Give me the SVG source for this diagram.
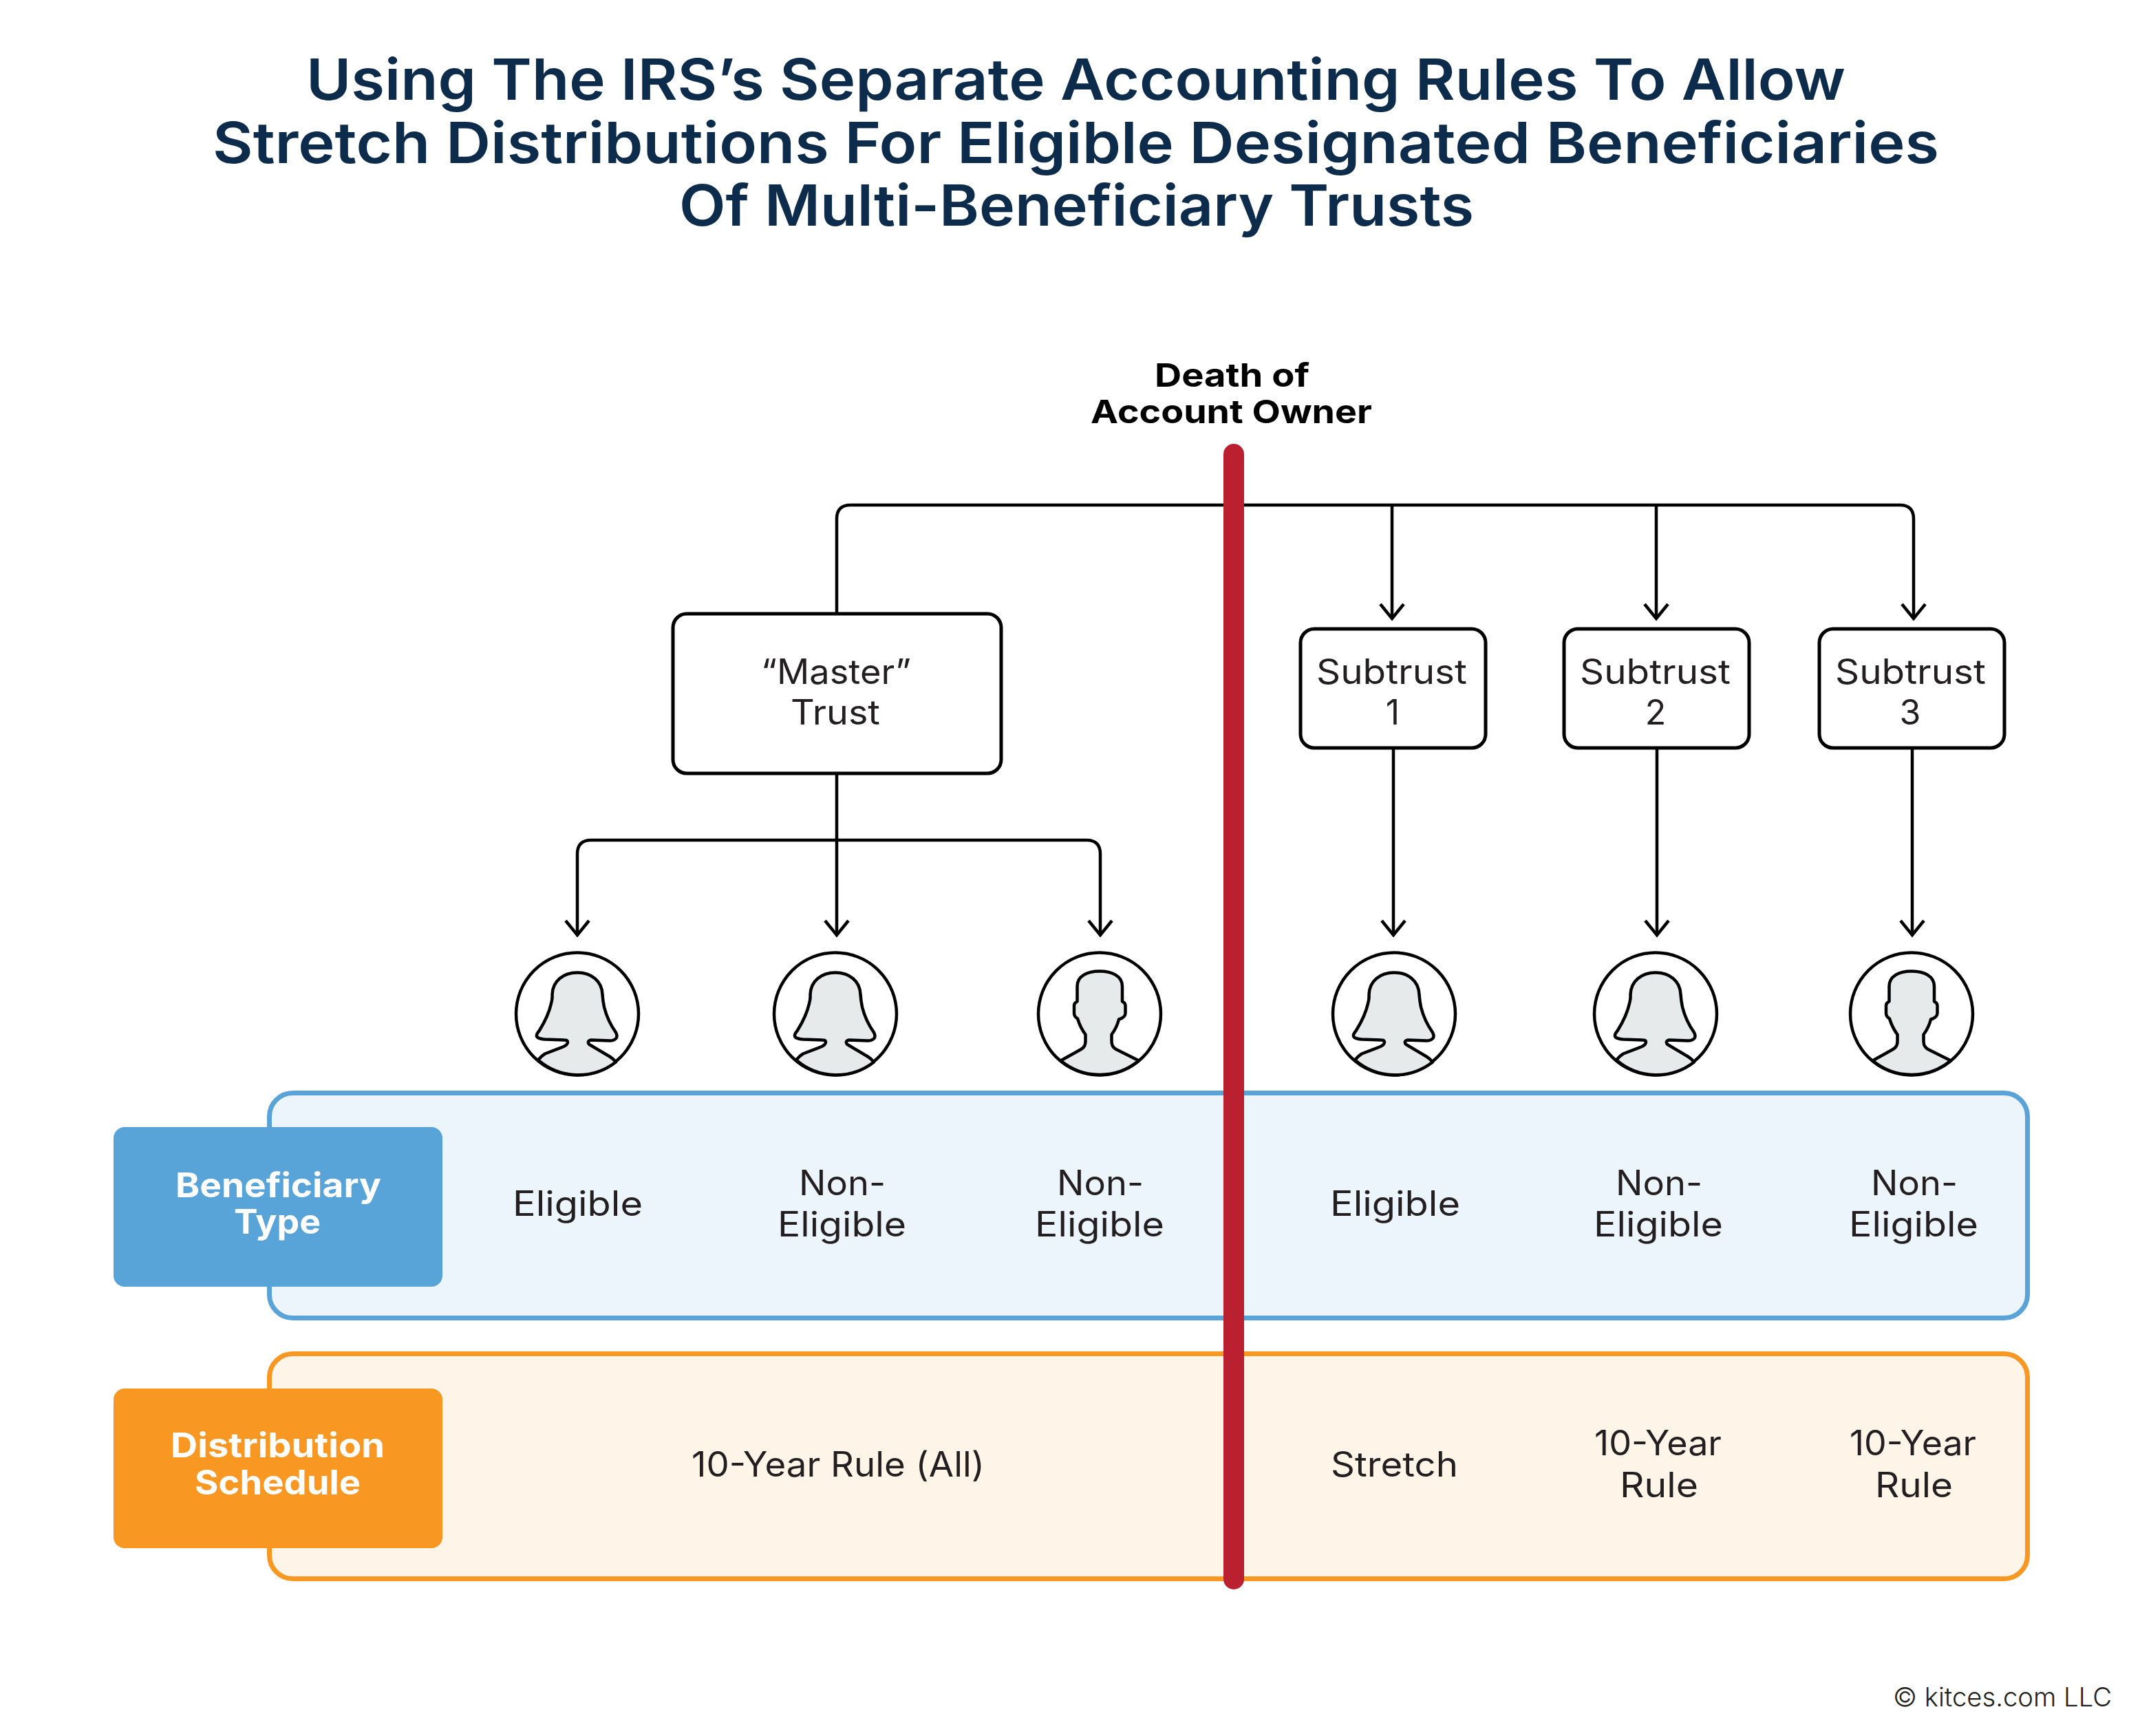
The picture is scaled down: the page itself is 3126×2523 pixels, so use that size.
<svg xmlns="http://www.w3.org/2000/svg" width="3126" height="2523" viewBox="0 0 3126 2523">
<defs>
<style>
text{font-family:"Inter","Noto Sans","Liberation Sans",sans-serif;fill:#231f20;font-size:50px}
.title{font-size:83px;font-weight:600;fill:#0d2b4a}
.head{font-size:47px;font-weight:700;fill:#000}
.lab{font-size:49px;font-weight:700;fill:#fff}
.copy{font-size:38px;font-weight:300}
.conn{fill:none;stroke:#000;stroke-width:4.500}
.arr{marker-end:url(#arrow)}
.box{fill:#fff;stroke:#000;stroke-width:5}
.ring{fill:#fff;stroke:#000;stroke-width:4.500}
.fig{fill:#e6eaeb;stroke:#000;stroke-width:4.500;stroke-linejoin:round}
</style>
<marker id="arrow" markerUnits="userSpaceOnUse" viewBox="-26 -20 32 40" refX="0" refY="0" markerWidth="32" markerHeight="40" orient="auto">
<path d="M-21,-17 L0,0 L-21,17" fill="none" stroke="#000" stroke-width="4.500"/>
</marker>
<g id="female">
<circle class="ring" r="89"/>
<path class="fig" d="M-57,67 Q-52,61 -47,58 L-21,48 Q-14,45 -14,41 Q-14,38 -19,38 L-47,37 Q-60,36 -59,31 Q-59,29 -55,24 Q-42,3 -38,-15 Q-36,-22 -36.5,-28 C-36,-48 -20,-60 0,-60 C20,-60 36,-48 36.500,-28 Q37,-20 39,-10 Q44,10 56,27 Q59,33 56,36 Q53,39 47,39 L20,38 Q15,39 16,42 Q16,44 20,46 L47,62 Q52,65 56,70 A89,89 0 0 1 -57,67 Z"/>
</g>
<g id="male">
<circle class="ring" r="89"/>
<path class="fig" d="M-56.500,68 L-27,51.500 Q-20.500,48 -20.500,40 L-20.500,30 Q-28,20 -32,7 Q-37,4 -37,-1 L-37,-12 Q-37,-16 -32.500,-18 L-32.500,-40 C-32.500,-55 -18,-62 0,-62 C18,-62 33,-55 33,-40 L33,-18 Q37.500,-16 37.500,-12 L37.500,-1 Q37.500,5 28,8 Q25,20 17.500,30 L17.500,40 Q17.500,48 24,51.500 L57,68 A89,89 0 0 1 -56.500,68 Z"/>
</g>
</defs>
<rect width="3126" height="2523" fill="#fff"/>

<g id="title">
<text class="title" x="445" y="145" textLength="2237" lengthAdjust="spacingAndGlyphs">Using The IRS’s Separate Accounting Rules To Allow</text>
<text class="title" x="309" y="237" textLength="2509" lengthAdjust="spacingAndGlyphs">Stretch Distributions For Eligible Designated Beneficiaries</text>
<text class="title" x="987" y="328" textLength="1155" lengthAdjust="spacingAndGlyphs">Of Multi-Beneficiary Trusts</text>
</g>

<g id="panels">
<rect x="391.500" y="1588.500" width="2555" height="327" rx="34" fill="#edf5fc" stroke="#5aa3d8" stroke-width="7"/>
<rect x="391.500" y="1967.500" width="2555" height="327" rx="34" fill="#fef4e8" stroke="#f99723" stroke-width="7"/>
</g>

<g id="connectors">
<path class="conn" d="M1216,892 L1216,754 Q1216,734 1236,734 L2761,734 Q2781,734 2781,754"/>
<path class="conn arr" d="M2781,754 L2781,899"/>
<path class="conn arr" d="M2023,734 L2023,899"/>
<path class="conn arr" d="M2407,734 L2407,899"/>
<path class="conn arr" d="M1216,1124 L1216,1359"/>
<path class="conn" d="M839,1241 Q839,1221 859,1221 L1579,1221 Q1599,1221 1599,1241"/>
<path class="conn arr" d="M839,1241 L839,1359"/>
<path class="conn arr" d="M1599,1241 L1599,1359"/>
<path class="conn arr" d="M2025,1088 L2025,1359"/>
<path class="conn arr" d="M2408,1088 L2408,1359"/>
<path class="conn arr" d="M2779,1088 L2779,1359"/>
</g>

<g id="master-trust">
<rect class="box" x="978" y="892" width="477" height="232" rx="20"/>
<text x="1106" y="994" textLength="218" lengthAdjust="spacingAndGlyphs">“Master”</text>
<text x="1149" y="1053" textLength="130" lengthAdjust="spacingAndGlyphs">Trust</text>
</g>
<g id="subtrust-1">
<rect class="box" x="1890" y="914" width="269" height="173" rx="20"/>
<text x="1913" y="994" textLength="219" lengthAdjust="spacingAndGlyphs">Subtrust</text>
<text x="2024" y="1053" text-anchor="middle">1</text>
</g>
<g id="subtrust-2">
<rect class="box" x="2273" y="914" width="269" height="173" rx="20"/>
<text x="2296" y="994" textLength="219" lengthAdjust="spacingAndGlyphs">Subtrust</text>
<text x="2406" y="1053" text-anchor="middle">2</text>
</g>
<g id="subtrust-3">
<rect class="box" x="2644" y="914" width="269" height="173" rx="20"/>
<text x="2667" y="994" textLength="219" lengthAdjust="spacingAndGlyphs">Subtrust</text>
<text x="2776" y="1053" text-anchor="middle">3</text>
</g>

<g id="person-1"><use href="#female" x="839" y="1473.500"/></g>
<g id="person-2"><use href="#female" x="1214" y="1473.500"/></g>
<g id="person-3"><use href="#male" x="1598" y="1473.500"/></g>
<g id="person-4"><use href="#female" x="2026" y="1473.500"/></g>
<g id="person-5"><use href="#female" x="2406" y="1473.500"/></g>
<g id="person-6"><use href="#male" x="2778" y="1473.500"/></g>

<g id="beneficiary-type">
<rect x="165" y="1638" width="478" height="232" rx="16" fill="#58a3d8"/>
<text class="lab" x="255" y="1740" textLength="299" lengthAdjust="spacingAndGlyphs">Beneficiary</text>
<text class="lab" x="340" y="1793" textLength="126" lengthAdjust="spacingAndGlyphs">Type</text>
</g>
<g id="distribution-schedule">
<rect x="165" y="2018" width="478" height="232" rx="16" fill="#f99723"/>
<text class="lab" x="248" y="2118" textLength="311" lengthAdjust="spacingAndGlyphs">Distribution</text>
<text class="lab" x="283" y="2172" textLength="241" lengthAdjust="spacingAndGlyphs">Schedule</text>
</g>

<g id="type-labels">
<text x="745" y="1767" textLength="189" lengthAdjust="spacingAndGlyphs">Eligible</text>
<text x="1161" y="1737" textLength="126" lengthAdjust="spacingAndGlyphs">Non-</text>
<text x="1130" y="1797" textLength="187" lengthAdjust="spacingAndGlyphs">Eligible</text>
<text x="1536" y="1737" textLength="126" lengthAdjust="spacingAndGlyphs">Non-</text>
<text x="1504" y="1797" textLength="188" lengthAdjust="spacingAndGlyphs">Eligible</text>
<text x="1933" y="1767" textLength="189" lengthAdjust="spacingAndGlyphs">Eligible</text>
<text x="2348" y="1737" textLength="126" lengthAdjust="spacingAndGlyphs">Non-</text>
<text x="2316" y="1797" textLength="188" lengthAdjust="spacingAndGlyphs">Eligible</text>
<text x="2719" y="1737" textLength="126" lengthAdjust="spacingAndGlyphs">Non-</text>
<text x="2687" y="1797" textLength="188" lengthAdjust="spacingAndGlyphs">Eligible</text>
</g>
<g id="schedule-labels">
<text x="1005" y="2146" textLength="426" lengthAdjust="spacingAndGlyphs">10-Year Rule (All)</text>
<text x="1934" y="2146" textLength="185" lengthAdjust="spacingAndGlyphs">Stretch</text>
<text x="2317" y="2115" textLength="185" lengthAdjust="spacingAndGlyphs">10-Year</text>
<text x="2354" y="2176" textLength="114" lengthAdjust="spacingAndGlyphs">Rule</text>
<text x="2688" y="2115" textLength="184" lengthAdjust="spacingAndGlyphs">10-Year</text>
<text x="2725" y="2176" textLength="113" lengthAdjust="spacingAndGlyphs">Rule</text>
</g>

<g id="death-line">
<line x1="1793" y1="660" x2="1793" y2="2295" stroke="#bb2030" stroke-width="30" stroke-linecap="round"/>
</g>
<g id="death-label">
<text class="head" x="1678" y="562" textLength="225" lengthAdjust="spacingAndGlyphs">Death of</text>
<text class="head" x="1585" y="615" textLength="409" lengthAdjust="spacingAndGlyphs">Account Owner</text>
</g>
<text class="copy" x="2751" y="2480" textLength="318" lengthAdjust="spacingAndGlyphs">© kitces.com LLC</text>
</svg>
